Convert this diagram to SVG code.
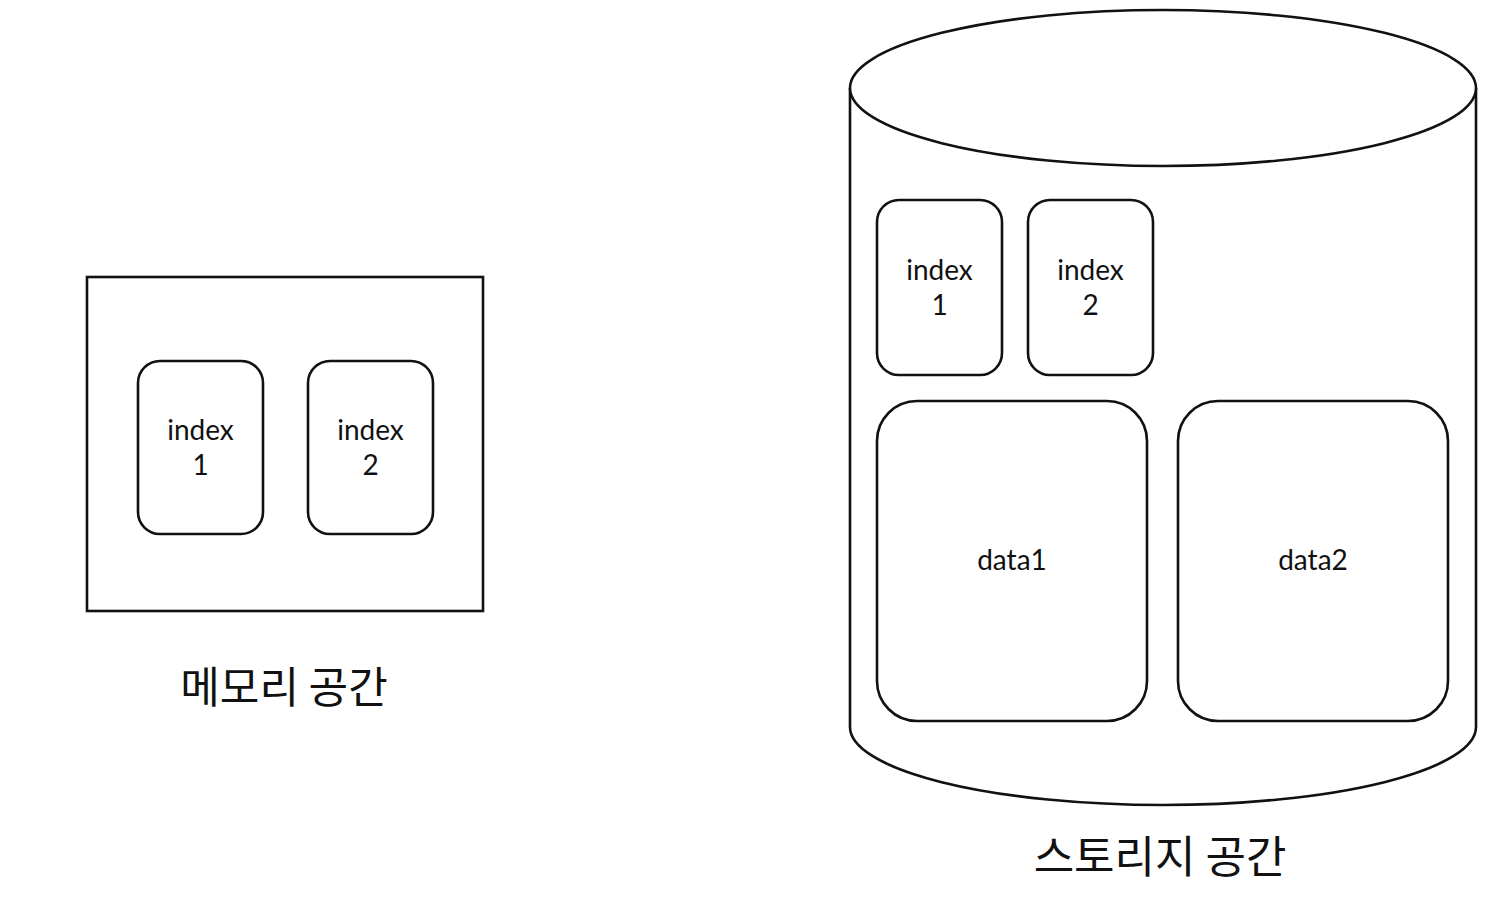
<svg xmlns="http://www.w3.org/2000/svg" width="1494" height="915" viewBox="0 0 1494 915">
<style>
.s{fill:#fff;stroke:#111;stroke-width:2.6}
.t{font-family:Lato,"Noto Sans",sans-serif;font-size:28px;fill:#111;text-anchor:middle}
.lbl{font-family:"Noto Sans CJK KR",sans-serif;font-size:43px;fill:#111;text-anchor:middle}
</style>
<rect width="1494" height="915" fill="#fff"/>
<g id="memory">
<rect class="s" x="87" y="277" width="396" height="334"/>
</g>
<g id="mem-index1">
<rect class="s" x="138" y="361" width="125" height="173" rx="22"/>
<text class="t" x="200.5" y="440">index</text>
<text class="t" x="200.5" y="475">1</text>
</g>
<g id="mem-index2">
<rect class="s" x="308" y="361" width="125" height="173" rx="22"/>
<text class="t" x="370.5" y="440">index</text>
<text class="t" x="370.5" y="475">2</text>
</g>
<g id="memory-label"><text class="lbl" x="284" y="703">메모리 공간</text></g>
<g id="storage">
<path class="s" d="M850 88 L850 727 A313 78 0 0 0 1476 727 L1476 88"/>
<ellipse class="s" cx="1163" cy="88" rx="313" ry="78"/>
</g>
<g id="st-index1">
<rect class="s" x="877" y="200" width="125" height="175" rx="22"/>
<text class="t" x="939.5" y="280">index</text>
<text class="t" x="939.5" y="315">1</text>
</g>
<g id="st-index2">
<rect class="s" x="1028" y="200" width="125" height="175" rx="22"/>
<text class="t" x="1090.5" y="280">index</text>
<text class="t" x="1090.5" y="315">2</text>
</g>
<g id="data1">
<rect class="s" x="877" y="401" width="270" height="320" rx="40"/>
<text class="t" x="1012" y="570">data1</text>
</g>
<g id="data2">
<rect class="s" x="1178" y="401" width="270" height="320" rx="40"/>
<text class="t" x="1313" y="570">data2</text>
</g>
<g id="storage-label"><text class="lbl" x="1160" y="873" style="font-size:44px">스토리지 공간</text></g>
<g id="connectors"></g>
</svg>
